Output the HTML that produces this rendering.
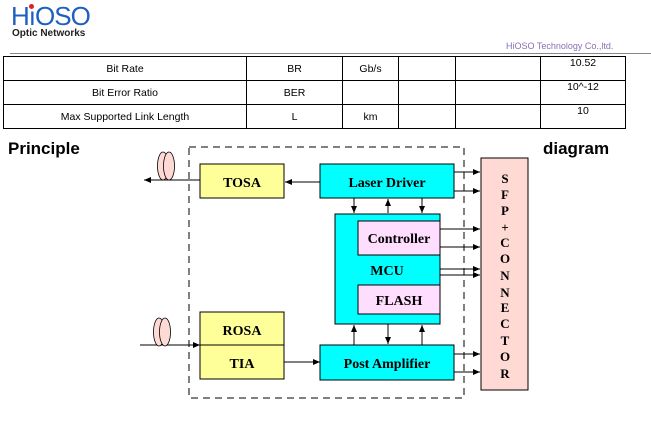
<!DOCTYPE html>
<html><head><style>
body{margin:0;width:651px;height:425px;background:#fff;position:relative;overflow:hidden;font-family:"Liberation Sans",sans-serif}
.a{position:absolute}
table{position:absolute;left:3px;top:56px;border-collapse:collapse;font-size:10.5px}
td{border:1px solid #000;height:23px;padding:0;text-align:center;vertical-align:middle}
svg text{font-family:"Liberation Serif",serif;font-weight:bold}
</style></head><body>
<div class="a" style="left:11px;top:3px;font-size:26px;line-height:26px;color:#1f5fbf;letter-spacing:-1px;">H<span style="position:relative">ı<span style="position:absolute;left:0px;top:3px;width:5px;height:5px;background:#d22;border-radius:50%"></span></span>OSO</div>
<div class="a" style="left:12px;top:28px;font-size:10px;line-height:11px;font-weight:bold;color:#222">Optic Networks</div>
<div class="a" style="left:10px;top:53px;width:641px;height:1px;background:#888"></div>
<div class="a" style="left:506px;top:41px;font-size:9px;color:#8a6fb5">HiOSO Technology Co.,ltd.</div>
<table>
<tr><td style="width:242px">Bit Rate</td><td style="width:95px">BR</td><td style="width:55px">Gb/s</td><td style="width:56px"></td><td style="width:84px"></td><td style="width:84px;vertical-align:top">10.52</td></tr>
<tr><td>Bit Error Ratio</td><td>BER</td><td></td><td></td><td></td><td style="vertical-align:top">10^-12</td></tr>
<tr><td>Max Supported Link Length</td><td>L</td><td>km</td><td></td><td></td><td style="vertical-align:top">10</td></tr>
</table>
<div class="a" style="left:8px;top:139px;font-size:17px;font-weight:bold">Principle</div>
<div class="a" style="left:543px;top:139px;font-size:17px;font-weight:bold">diagram</div>
<svg class="a" style="left:0;top:0" width="651" height="425">
<defs><marker id="m" markerWidth="8" markerHeight="8" refX="7" refY="4" orient="auto" markerUnits="userSpaceOnUse"><path d="M0,1 L7,4 L0,7z" fill="#000"/></marker></defs>
<rect x="189" y="147" width="275" height="251" fill="none" stroke="#000" stroke-dasharray="7,5"/>
<g stroke="#000" fill="#ffff99"><rect x="200" y="164" width="84" height="34"/><rect x="200" y="312" width="84" height="33"/><rect x="200" y="345" width="84" height="34"/></g>
<g stroke="#000" fill="#00ffff"><rect x="320" y="164" width="134" height="34"/><rect x="335" y="214" width="105" height="110"/><rect x="320" y="345" width="134" height="35"/></g>
<g stroke="#000" fill="#ffddff"><rect x="358" y="221" width="82" height="34"/><rect x="358" y="285" width="82" height="29"/></g>
<rect x="481" y="158" width="47" height="232" fill="#ffd9d3" stroke="#000"/>
<g font-size="14" text-anchor="middle"><text x="242" y="187">TOSA</text><text x="387" y="187">Laser Driver</text><text x="399" y="243">Controller</text><text x="387" y="275">MCU</text><text x="399" y="305">FLASH</text><text x="242" y="335">ROSA</text><text x="242" y="368">TIA</text><text x="387" y="368">Post Amplifier</text></g>
<g font-size="13" text-anchor="middle"><text x="505" y="183">S</text><text x="505" y="199">F</text><text x="505" y="215">P</text><text x="505" y="232">+</text><text x="505" y="247">C</text><text x="505" y="263">O</text><text x="505" y="280">N</text><text x="505" y="297">N</text><text x="505" y="312">E</text><text x="505" y="328">C</text><text x="505" y="345">T</text><text x="505" y="361">O</text><text x="505" y="378">R</text></g>
<g stroke="#000" stroke-width="1" marker-end="url(#m)">
<line x1="200" y1="180" x2="144" y2="180"/><line x1="320" y1="182" x2="285" y2="182"/>
<line x1="140" y1="345" x2="200" y2="345"/><line x1="284" y1="362" x2="320" y2="362"/>
<line x1="454" y1="172" x2="480" y2="172"/><line x1="454" y1="191" x2="480" y2="191"/>
<line x1="440" y1="229" x2="480" y2="229"/><line x1="440" y1="247" x2="480" y2="247"/>
<line x1="440" y1="269" x2="480" y2="269"/><line x1="440" y1="275" x2="480" y2="275"/>
<line x1="454" y1="354" x2="480" y2="354"/><line x1="454" y1="372" x2="480" y2="372"/>
<line x1="354" y1="198" x2="354" y2="213"/><line x1="388" y1="213" x2="388" y2="199"/><line x1="422" y1="198" x2="422" y2="213"/>
<line x1="354" y1="345" x2="354" y2="325"/><line x1="388" y1="324" x2="388" y2="344"/><line x1="422" y1="345" x2="422" y2="325"/>
</g>
<g stroke="#000" fill="#ffd9d3" stroke-width="0.8"><ellipse cx="163" cy="166" rx="5.5" ry="14"/><ellipse cx="169" cy="166" rx="5.5" ry="14"/><ellipse cx="159" cy="332" rx="5.5" ry="14"/><ellipse cx="165" cy="332" rx="5.5" ry="14"/></g>
</svg>
</body></html>
